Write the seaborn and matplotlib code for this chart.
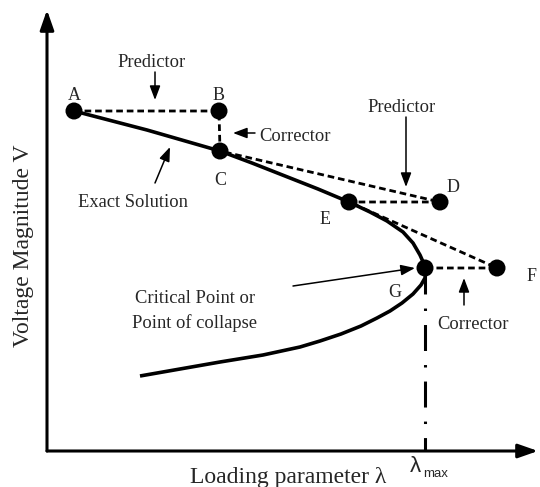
import matplotlib
matplotlib.use("Agg")
import matplotlib.pyplot as plt
import seaborn as sns

# --------- DATA (lambda, V) -------------------------------
# exact solution, upper branch A -> nose, then lower branch
curve_lam = [0.27, 1.00, 1.73, 2.05, 2.38, 2.71, 3.02, 3.23, 3.40, 3.56, 3.66, 3.73, 3.77, 3.79,
             3.78, 3.74, 3.66, 3.55, 3.43, 3.30, 3.14, 2.94, 2.73, 2.53, 2.16, 1.73, 1.33, 0.93]
curve_v = [3.40, 3.21, 3.00, 2.88, 2.75, 2.62, 2.49, 2.39, 2.30, 2.19, 2.08, 1.96, 1.87, 1.80,
           1.73, 1.66, 1.57, 1.48, 1.40, 1.33, 1.25, 1.17, 1.10, 1.04, 0.96, 0.89, 0.82, 0.75]

point_names = ["A", "B", "C", "D", "E", "F", "G"]
point_lam = [0.27, 1.72, 1.73, 3.93, 3.02, 4.50, 3.78]
point_v = [3.40, 3.40, 3.00, 2.49, 2.49, 1.83, 1.83]

lam_max = point_lam[-1]
v_critical = point_v[-1]

# --------- STYLE ----------
sns.set_style("white")
plt.rcParams['font.family'] = ['Liberation Serif', 'DejaVu Serif']

fig = plt.figure(figsize=(5.4, 4.87), dpi=100)
ax = fig.add_axes([47 / 540, 36 / 487, 491 / 540, 441 / 487])
ax.set_xlim(0, 4.91)
ax.set_ylim(0, 4.41)
for s in ax.spines.values():
    s.set_visible(False)
ax.set_xticks([])
ax.set_yticks([])

# --------- AXES ARROWS ----------
axis_arrow = dict(arrowstyle='-|>,head_length=1.2,head_width=0.42', lw=2.2,
                  color='black', shrinkA=0, shrinkB=0, mutation_scale=10)
ax.annotate('', xy=(0, 1), xytext=(0, 0), xycoords='axes fraction', arrowprops=axis_arrow)
ax.annotate('', xy=(1, 0), xytext=(0, 0), xycoords='axes fraction', arrowprops=axis_arrow)

# --------- EXACT SOLUTION CURVE ----------
sns.lineplot(x=curve_lam, y=curve_v, sort=False, estimator=None, color='black',
             lw=2.6, ax=ax, solid_capstyle='butt', solid_joinstyle='round')

# --------- PREDICTOR / CORRECTOR STEPS ----------
ax.plot(point_lam, point_v, color='black', lw=2.0, dashes=(2.4, 1.4))

# --------- LAMBDA MAX LINE ----------
ax.plot([lam_max, lam_max], [v_critical, 0], color='black', lw=2.2,
        dashes=(8.5, 4.6, 0.8, 4.6))

# --------- POINTS ----------
sns.scatterplot(x=point_lam, y=point_v, s=150, color='black', edgecolor='none',
                ax=ax, zorder=5)

# --------- POINT LETTERS ----------
letter_pos = {
    "A": (0.27, 3.51), "B": (1.72, 3.51), "C": (1.73, 2.66), "D": (4.06, 2.59),
    "E": (2.78, 2.27), "F": (4.85, 1.70), "G": (3.48, 1.54),
}
for name in point_names:
    x, y = letter_pos[name]
    ax.text(x, y, name, ha='center', va='baseline', fontsize=13, clip_on=False)

# --------- ANNOTATIONS ----------
thin = dict(arrowstyle='-|>,head_length=0.85,head_width=0.32', lw=1.1,
            color='black', shrinkA=0, shrinkB=0, mutation_scale=10)
fs = 13.3

ax.text(1.05, 3.845, "Predictor", ha='center', va='baseline', fontsize=fs)
ax.annotate('', xy=(1.08, 3.51), xytext=(1.08, 3.79), arrowprops=thin)

ax.text(2.12, 3.10, "Corrector", ha='left', va='baseline', fontsize=fs)
ax.annotate('', xy=(1.86, 3.18), xytext=(2.08, 3.18), arrowprops=thin)

ax.text(0.86, 2.44, "Exact Solution", ha='center', va='baseline', fontsize=fs)
ax.annotate('', xy=(1.23, 3.04), xytext=(1.08, 2.68), arrowprops=thin)

ax.text(3.55, 3.39, "Predictor", ha='center', va='baseline', fontsize=fs)
ax.annotate('', xy=(3.59, 2.64), xytext=(3.59, 3.34), arrowprops=thin)

ax.text(1.48, 1.48, "Critical Point or", ha='center', va='baseline', fontsize=fs)
ax.text(1.48, 1.23, "Point of collapse", ha='center', va='baseline', fontsize=fs)
ax.annotate('', xy=(3.68, 1.83), xytext=(2.46, 1.65), arrowprops=thin)

ax.text(4.26, 1.22, "Corrector", ha='center', va='baseline', fontsize=fs)
ax.annotate('', xy=(4.17, 1.73), xytext=(4.17, 1.46), arrowprops=thin)

# --------- AXIS LABELS ----------
ax.text(3.68, -0.21, "λ", ha='center', va='baseline', fontsize=16,
        family=['Liberation Sans', 'DejaVu Sans'], clip_on=False)
ax.text(3.76, -0.26, "max", ha='left', va='baseline', fontsize=9.5,
        family=['Liberation Sans', 'DejaVu Sans'], clip_on=False)
ax.text(2.41, -0.32, "Loading parameter λ", ha='center', va='baseline',
        fontsize=17, clip_on=False)
ax.text(-0.23, 2.05, "Voltage Magnitude V", ha='center', va='center',
        rotation=90, fontsize=17, clip_on=False)

fig.savefig("out.png", dpi=100)
